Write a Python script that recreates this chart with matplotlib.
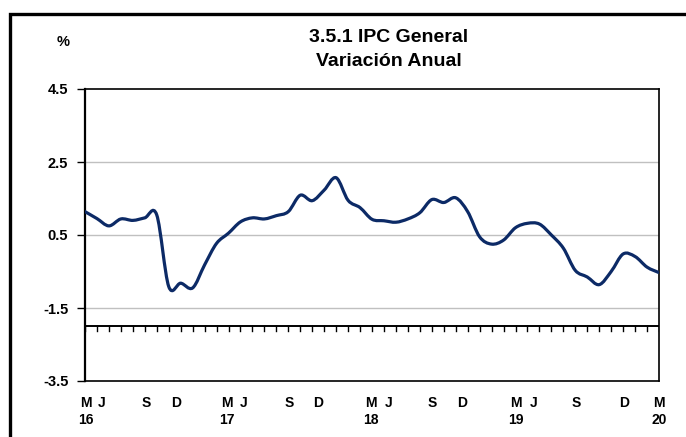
# IPC general - variacion anual, mar 2016 a mar 2020

import numpy as np
import matplotlib.pyplot as plt
from matplotlib.path import Path
from matplotlib.patches import PathPatch, Rectangle

plt.rcParams['font.family'] = ['Liberation Sans', 'DejaVu Sans']
plt.rcParams['font.weight'] = 'bold'

# monthly values, M16 .. M20
ipc = [1.14, 0.95, 0.75, 0.94, 0.90, 0.97, 1.05, -0.91, -0.82, -0.95,
       -0.32, 0.27, 0.55, 0.86, 0.97, 0.94, 1.03, 1.14, 1.59, 1.44,
       1.73, 2.07, 1.45, 1.25, 0.93, 0.89, 0.85, 0.94, 1.11, 1.47,
       1.39, 1.52, 1.14, 0.45, 0.25, 0.36, 0.70, 0.82, 0.80, 0.50,
       0.14, -0.47, -0.65, -0.86, -0.50, -0.02, -0.09, -0.38, -0.53]

month_labels = ['M', 'J', 'S', 'D', 'M', 'J', 'S', 'D', 'M', 'J', 'S', 'D',
                'M', 'J', 'S', 'D', 'M']
month_pos = [0.1, 1.4, 5.1, 7.6, 11.9, 13.3, 17.1, 19.5, 23.9, 25.4, 29.0,
             31.5, 36.0, 37.5, 41.1, 45.1, 48]
year_labels = ['16', '17', '18', '19', '20']
year_pos = [0.1, 11.9, 23.9, 36.0, 48]

yticks = [4.5, 2.5, 0.5, -1.5, -3.5]


def smooth_path(x, y):
    # excel-like smoothed line (catmull-rom as cubic bezier)
    pts = np.column_stack([x, y])
    verts = [pts[0]]
    codes = [Path.MOVETO]
    n = len(pts)
    for i in range(n - 1):
        p0 = pts[max(i - 1, 0)]
        p1 = pts[i]
        p2 = pts[i + 1]
        p3 = pts[min(i + 2, n - 1)]
        c1 = p1 + (p2 - p0) / 6
        c2 = p2 - (p3 - p1) / 6
        verts += [c1, c2, p2]
        codes += [Path.CURVE4] * 3
    return Path(verts, codes)


fig = plt.figure(figsize=(6.86, 4.37), dpi=100)
ax = fig.add_axes([85 / 686, 1 - 381 / 437, 574 / 686, 292 / 437])

x = np.arange(len(ipc))
ax.add_patch(PathPatch(smooth_path(x, ipc), fill=False, color='#0c2a66',
                       lw=2.3, capstyle='round', joinstyle='round', zorder=3))

ax.set_xlim(0, len(ipc) - 1)
ax.set_ylim(-3.5, 4.5)
ax.set_yticks(yticks)
ax.set_yticklabels(['%.1f' % v for v in yticks])
for v in yticks[1:-1]:
    ax.axhline(v, color='#c0c0c0', lw=1.0, zorder=1)

# category axis crossing at -2
ax.axhline(-2.0, color='black', lw=1.4, zorder=2)
for xi in x:
    ax.plot([xi, xi], [-2.0, -2.13], color='black', lw=1.0, zorder=2)

ax.set_xticks([])
ax.tick_params(axis='y', length=6, width=1.0, labelsize=10.5, pad=6)
for s in ax.spines.values():
    s.set_linewidth(1.2)
ax.spines['left'].set_linewidth(1.6)

for p, lab in zip(month_pos, month_labels):
    ax.text(p, -3.92, lab, ha='center', va='top', fontsize=10,
            fontweight='bold', clip_on=False)
for p, lab in zip(year_pos, year_labels):
    ax.text(p, -4.38, lab, ha='center', va='top', fontsize=10,
            fontweight='bold', clip_on=False)

fig.text(389 / 686, 1 - 37 / 437, '3.5.1 IPC General', ha='center',
         va='center', fontsize=14, fontweight='bold')
fig.text(389 / 686, 1 - 61 / 437, 'Variación Anual', ha='center',
         va='center', fontsize=14, fontweight='bold')
fig.text(63 / 686, 1 - 42 / 437, '%', ha='center', va='center',
         fontsize=10.5, fontweight='bold')

# outer frame
fig.patches.append(Rectangle((9.5 / 686, -0.1), 1.2, 1 - 13.5 / 437 + 0.1,
                             transform=fig.transFigure, fill=False,
                             ec='black', lw=2.4))

fig.savefig('out.png', dpi=100)
